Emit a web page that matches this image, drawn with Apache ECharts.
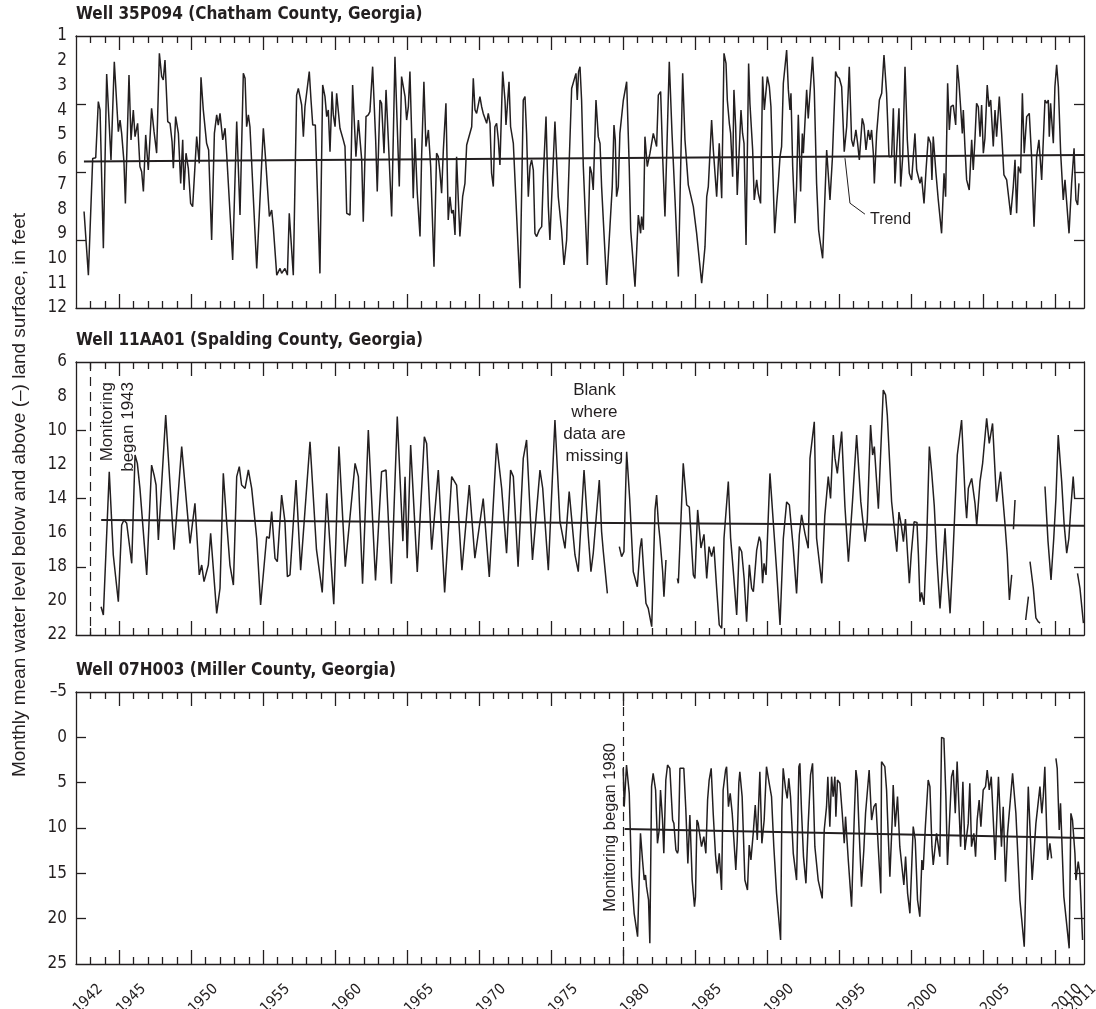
<!DOCTYPE html>
<html>
<head>
<meta charset="utf-8">
<script src="https://cdn.jsdelivr.net/npm/echarts@6/dist/echarts.min.js"></script>
<style>
  html, body { margin: 0; padding: 0; background: #ffffff; }
  #chart { width: 1096px; height: 1009px; }
</style>
</head>
<body>
<div id="chart"></div>
<script>
// ---- Data: monthly mean water level, feet below (+) / above (–) land surface ----
const xLabelYears = [1942, 1945, 1950, 1955, 1960, 1965, 1970, 1975, 1980, 1985, 1990, 1995, 2000, 2005, 2010];
const xLabelEnd = [2011];
const majorTickYears = [1945, 1950, 1955, 1960, 1965, 1970, 1975, 1980, 1985, 1990, 1995, 2000, 2005, 2010];

const titles = [
  'Well 35P094 (Chatham County, Georgia)',
  'Well 11AA01 (Spalding County, Georgia)',
  'Well 07H003 (Miller County, Georgia)'
];

// Well 35P094 [decimal year, feet]
const level35P094 = [
  [1942.56, 8.10], [1942.86, 10.67], [1943.16, 5.95], [1943.37, 5.92], [1943.55, 3.65], [1943.67, 3.99],
  [1943.90, 9.58], [1944.13, 2.54], [1944.25, 2.58], [1944.43, 6.01], [1944.66, 2.04], [1944.94, 4.87],
  [1945.06, 4.40], [1945.17, 4.94], [1945.33, 6.08], [1945.43, 7.77], [1945.68, 2.58], [1945.82, 5.20],
  [1945.98, 3.99], [1946.10, 5.07], [1946.28, 4.53], [1946.44, 6.28], [1946.56, 6.49], [1946.68, 7.29],
  [1946.84, 5.00], [1947.02, 6.42], [1947.25, 3.92], [1947.42, 4.87], [1947.60, 5.74], [1947.79, 1.70],
  [1947.95, 2.64], [1948.06, 2.78], [1948.18, 1.97], [1948.37, 4.46], [1948.53, 4.53], [1948.67, 5.27],
  [1948.76, 6.35], [1948.92, 4.26], [1949.11, 4.94], [1949.27, 6.96], [1949.41, 5.20], [1949.50, 7.23],
  [1949.64, 5.74], [1949.80, 6.35], [1949.96, 7.77], [1950.10, 7.90], [1950.38, 5.07], [1950.56, 6.15],
  [1950.68, 2.67], [1950.84, 3.99], [1951.07, 5.34], [1951.21, 5.61], [1951.42, 9.25], [1951.61, 4.94],
  [1951.77, 4.19], [1951.88, 4.60], [1952.00, 4.13], [1952.19, 5.20], [1952.35, 4.73], [1952.46, 5.74],
  [1952.88, 10.06], [1953.16, 4.46], [1953.23, 4.53], [1953.39, 8.24], [1953.62, 2.51], [1953.74, 2.71],
  [1953.85, 4.67], [1953.97, 4.19], [1954.08, 4.67], [1954.55, 10.40], [1955.01, 4.73], [1955.17, 6.01],
  [1955.43, 8.30], [1955.59, 8.04], [1955.70, 8.71], [1955.94, 10.67], [1956.17, 10.40], [1956.28, 10.60],
  [1956.51, 10.40], [1956.68, 10.67], [1956.81, 8.17], [1956.91, 8.24], [1957.09, 10.67], [1957.32, 3.39],
  [1957.44, 3.12], [1957.67, 3.79], [1957.79, 5.07], [1957.90, 3.86], [1958.02, 3.79], [1958.20, 2.44],
  [1958.32, 3.59], [1958.44, 4.60], [1958.62, 4.60], [1958.94, 10.60], [1959.13, 2.98], [1959.29, 3.45],
  [1959.41, 4.26], [1959.52, 3.99], [1959.64, 5.68], [1959.78, 3.25], [1959.87, 4.19], [1959.99, 4.67],
  [1960.10, 3.32], [1960.22, 3.39], [1960.33, 4.73], [1960.56, 5.20], [1960.68, 5.47], [1960.80, 8.17],
  [1961.03, 8.24], [1961.21, 2.98], [1961.44, 5.88], [1961.61, 4.40], [1961.72, 4.33], [1961.84, 6.01],
  [1961.95, 8.51], [1962.14, 4.26], [1962.30, 4.19], [1962.41, 4.06], [1962.60, 2.24], [1962.81, 5.20],
  [1962.92, 7.29], [1963.11, 3.59], [1963.22, 3.72], [1963.39, 5.74], [1963.53, 3.18], [1963.69, 5.20],
  [1963.92, 8.30], [1964.15, 1.84], [1964.31, 4.67], [1964.45, 7.09], [1964.61, 2.64], [1964.73, 2.71],
  [1964.85, 3.45], [1964.96, 4.40], [1965.08, 3.86], [1965.19, 2.44], [1965.31, 4.94], [1965.42, 7.56],
  [1965.54, 5.14], [1965.70, 7.36], [1965.89, 9.11], [1966.00, 5.88], [1966.16, 2.85], [1966.30, 5.47],
  [1966.47, 4.80], [1966.63, 6.28], [1966.86, 10.33], [1967.04, 5.74], [1967.16, 5.88], [1967.28, 6.55],
  [1967.39, 7.36], [1967.51, 5.61], [1967.69, 3.72], [1967.85, 8.44], [1967.97, 7.50], [1968.09, 8.17],
  [1968.20, 8.04], [1968.32, 9.05], [1968.43, 5.88], [1968.55, 7.63], [1968.66, 9.11], [1968.85, 7.50],
  [1969.01, 6.96], [1969.13, 5.41], [1969.24, 5.47], [1969.48, 4.67], [1969.59, 2.71], [1969.71, 3.99],
  [1969.82, 4.13], [1970.05, 3.45], [1970.17, 3.86], [1970.28, 4.13], [1970.40, 4.19], [1970.52, 4.53],
  [1970.63, 4.13], [1970.75, 4.53], [1970.86, 6.55], [1970.98, 7.09], [1971.09, 4.67], [1971.21, 4.53],
  [1971.33, 5.20], [1971.44, 6.22], [1971.63, 2.44], [1971.79, 3.59], [1971.86, 4.60], [1971.95, 3.86],
  [1972.07, 2.85], [1972.18, 4.67], [1972.37, 5.34], [1972.83, 11.20], [1973.06, 3.59], [1973.18, 3.45],
  [1973.29, 4.94], [1973.41, 7.50], [1973.53, 6.28], [1973.64, 6.01], [1973.76, 6.42], [1973.87, 8.98],
  [1973.99, 9.11], [1974.17, 8.84], [1974.34, 8.71], [1974.45, 6.69], [1974.64, 4.26], [1974.80, 7.90],
  [1974.91, 9.25], [1975.26, 4.46], [1975.49, 7.50], [1975.61, 7.50], [1975.72, 8.84], [1975.89, 10.26],
  [1976.07, 9.25], [1976.19, 9.18], [1976.42, 3.12], [1976.53, 3.18], [1976.72, 2.51], [1976.81, 3.59],
  [1976.90, 2.44], [1977.00, 2.24], [1977.11, 3.59], [1977.23, 6.28], [1977.51, 10.26], [1977.69, 6.28],
  [1977.81, 6.55], [1977.92, 7.23], [1978.11, 3.59], [1978.27, 5.07], [1978.39, 5.34], [1978.50, 7.09],
  [1978.85, 11.07], [1979.08, 8.71], [1979.24, 7.09], [1979.36, 4.60], [1979.45, 5.20], [1979.54, 7.50],
  [1979.66, 7.09], [1979.77, 4.94], [1980.01, 3.59], [1980.24, 2.85], [1980.42, 6.28], [1980.52, 8.84],
  [1980.82, 11.14], [1981.05, 8.24], [1981.21, 8.98], [1981.28, 8.30], [1981.40, 8.84], [1981.51, 5.07],
  [1981.67, 6.28], [1981.86, 5.74], [1982.09, 4.94], [1982.21, 4.87], [1982.32, 5.47], [1982.44, 3.39],
  [1982.60, 3.25], [1982.74, 5.88], [1982.90, 8.30], [1983.20, 2.04], [1983.39, 4.94], [1983.60, 7.63],
  [1983.83, 10.73], [1984.13, 2.51], [1984.29, 5.20], [1984.52, 7.02], [1984.64, 7.09], [1984.87, 7.90],
  [1985.10, 8.98], [1985.45, 11.00], [1985.68, 9.52], [1985.80, 7.50], [1985.91, 7.09], [1986.14, 4.40],
  [1986.26, 5.61], [1986.49, 7.50], [1986.67, 5.34], [1986.84, 7.56], [1987.00, 1.70], [1987.14, 2.11],
  [1987.23, 3.59], [1987.37, 4.53], [1987.46, 4.94], [1987.60, 6.69], [1987.69, 3.18], [1987.81, 4.67],
  [1987.92, 7.43], [1988.18, 3.99], [1988.29, 4.94], [1988.39, 5.34], [1988.53, 9.45], [1988.71, 2.11],
  [1988.80, 3.72], [1988.99, 5.61], [1989.10, 7.63], [1989.27, 6.82], [1989.38, 7.36], [1989.54, 7.77],
  [1989.68, 2.64], [1989.80, 3.99], [1990.01, 2.64], [1990.15, 3.05], [1990.26, 3.86], [1990.38, 6.28],
  [1990.52, 8.98], [1990.66, 7.77], [1990.77, 6.96], [1990.89, 5.88], [1991.00, 5.47], [1991.12, 2.91],
  [1991.23, 2.98], [1991.35, 1.57], [1991.47, 3.18], [1991.58, 3.99], [1991.65, 3.32], [1991.77, 6.28],
  [1991.93, 8.57], [1992.04, 7.09], [1992.16, 4.19], [1992.32, 7.29], [1992.44, 4.94], [1992.51, 5.74],
  [1992.74, 3.18], [1992.85, 4.33], [1992.97, 3.32], [1993.15, 1.84], [1993.27, 3.18], [1993.43, 6.96],
  [1993.57, 8.84], [1993.66, 9.25], [1993.85, 9.99], [1993.94, 9.92], [1994.13, 5.61], [1994.36, 7.63],
  [1994.52, 6.01], [1994.64, 5.95], [1994.75, 2.44], [1994.87, 2.64], [1995.01, 2.71], [1995.17, 3.05],
  [1995.35, 5.68], [1995.52, 4.67], [1995.70, 2.24], [1995.86, 5.20], [1995.98, 5.47], [1996.16, 4.80],
  [1996.28, 5.34], [1996.40, 6.01], [1996.60, 4.33], [1996.72, 4.60], [1996.86, 5.61], [1997.02, 4.80],
  [1997.14, 5.20], [1997.25, 4.80], [1997.37, 5.74], [1997.44, 6.96], [1997.60, 4.94], [1997.79, 3.59],
  [1997.95, 3.32], [1998.11, 1.77], [1998.29, 3.32], [1998.46, 5.88], [1998.64, 5.88], [1998.76, 3.92],
  [1998.87, 6.96], [1999.15, 3.92], [1999.27, 7.09], [1999.41, 5.88], [1999.57, 2.24], [1999.73, 5.20],
  [1999.87, 6.55], [2000.03, 6.82], [2000.26, 4.94], [2000.38, 6.42], [2000.61, 6.96], [2000.72, 6.69],
  [2000.89, 7.77], [2001.03, 6.42], [2001.19, 5.07], [2001.35, 5.34], [2001.44, 6.82], [2001.53, 5.07],
  [2001.72, 6.55], [2001.88, 7.63], [2002.11, 8.98], [2002.28, 6.55], [2002.39, 7.50], [2002.53, 2.91],
  [2002.65, 4.80], [2002.76, 3.86], [2002.92, 3.79], [2003.09, 4.60], [2003.20, 2.17], [2003.32, 2.91],
  [2003.43, 3.86], [2003.55, 4.94], [2003.62, 3.99], [2003.73, 5.47], [2003.85, 6.82], [2004.03, 7.23],
  [2004.20, 5.20], [2004.31, 6.42], [2004.43, 5.14], [2004.54, 3.72], [2004.66, 3.86], [2004.78, 5.07],
  [2004.89, 3.79], [2005.01, 5.74], [2005.12, 5.14], [2005.28, 2.98], [2005.40, 3.86], [2005.52, 3.59],
  [2005.70, 5.47], [2005.82, 3.99], [2005.93, 5.07], [2006.12, 3.45], [2006.28, 4.94], [2006.44, 6.62],
  [2006.63, 6.82], [2006.79, 7.63], [2006.91, 8.24], [2007.09, 7.09], [2007.21, 6.01], [2007.32, 8.17],
  [2007.44, 6.28], [2007.60, 6.55], [2007.72, 3.32], [2007.85, 5.74], [2008.02, 4.26], [2008.20, 4.13],
  [2008.36, 5.88], [2008.53, 8.71], [2008.71, 5.88], [2008.87, 5.20], [2009.06, 6.82], [2009.29, 3.59],
  [2009.41, 3.72], [2009.52, 3.59], [2009.59, 5.07], [2009.68, 3.72], [2009.87, 5.34], [2009.98, 3.05],
  [2010.10, 2.17], [2010.22, 3.05], [2010.38, 5.74], [2010.56, 7.63], [2010.68, 6.82], [2010.79, 6.75],
  [2010.96, 8.98], [2011.14, 6.96], [2011.31, 5.54], [2011.44, 7.63], [2011.56, 7.83], [2011.65, 6.96]
];
const trend35P094 = [[1942.55, 6.08], [2012.0, 5.81]];

// Well 11AA01 [decimal year, feet]; null marks missing records
const level11AA01 = [
  [1943.74, 20.34], [1943.90, 20.83], [1944.31, 12.43], [1944.59, 17.31], [1944.94, 20.05], [1945.17, 15.55],
  [1945.33, 15.26], [1945.52, 15.45], [1945.87, 17.80], [1946.10, 11.45], [1946.26, 11.94], [1946.44, 13.41],
  [1946.91, 18.48], [1947.25, 12.04], [1947.42, 12.62], [1947.56, 13.21], [1947.72, 16.43], [1948.23, 9.11],
  [1948.81, 17.00], [1949.34, 10.96], [1949.92, 16.63], [1950.26, 14.28], [1950.56, 18.48], [1950.73, 17.90],
  [1950.89, 18.87], [1951.19, 17.90], [1951.35, 16.04], [1951.77, 20.73], [1952.00, 19.26], [1952.23, 12.52],
  [1952.46, 15.36], [1952.69, 17.90], [1952.93, 19.07], [1953.16, 12.72], [1953.34, 12.13], [1953.50, 13.21],
  [1953.74, 13.41], [1953.97, 12.33], [1954.20, 13.41], [1954.55, 16.33], [1954.82, 20.24], [1955.24, 16.24],
  [1955.42, 16.33], [1955.59, 14.77], [1955.82, 17.51], [1955.98, 17.70], [1956.28, 13.80], [1956.51, 15.36],
  [1956.68, 18.58], [1956.86, 18.48], [1957.28, 12.92], [1957.60, 18.20], [1958.25, 10.67], [1958.70, 17.00],
  [1959.10, 19.50], [1959.41, 13.70], [1959.90, 20.20], [1960.26, 10.96], [1960.70, 18.00], [1961.38, 11.94],
  [1961.61, 12.72], [1961.90, 19.00], [1962.30, 9.99], [1962.80, 18.80], [1963.22, 12.43], [1963.53, 12.33],
  [1963.90, 19.00], [1964.31, 9.20], [1964.70, 16.50], [1964.85, 12.72], [1965.00, 17.50], [1965.24, 10.87],
  [1965.70, 18.30], [1966.19, 10.38], [1966.35, 10.77], [1966.70, 17.00], [1967.16, 12.33], [1967.60, 19.50],
  [1968.09, 12.72], [1968.43, 13.21], [1968.80, 18.20], [1969.31, 13.21], [1969.70, 17.50], [1970.28, 14.00],
  [1970.70, 18.60], [1971.21, 10.77], [1971.56, 13.40], [1971.90, 17.20], [1972.18, 12.33], [1972.37, 12.72],
  [1972.70, 18.00], [1973.06, 11.65], [1973.29, 10.57], [1973.70, 17.60], [1974.22, 12.33], [1974.41, 13.40],
  [1974.80, 18.20], [1975.26, 9.40], [1975.61, 15.36], [1975.96, 16.92], [1976.25, 13.60], [1976.65, 17.31],
  [1976.88, 18.29], [1977.28, 12.33], [1977.58, 16.24], [1977.76, 18.29], [1977.92, 17.21], [1978.34, 12.92],
  [1978.50, 15.94], [1978.62, 17.12], [1978.90, 19.56], [1979.30, null], [1979.73, 16.82], [1979.89, 17.41],
  [1980.05, 17.12], [1980.24, 11.26], [1980.45, 14.00], [1980.70, 18.29], [1980.98, 19.17], [1981.17, 16.92],
  [1981.28, 16.33], [1981.44, 18.48], [1981.58, 20.14], [1981.74, 20.44], [1981.98, 21.51], [1982.21, 14.67],
  [1982.32, 13.80], [1982.45, 15.50], [1982.55, 16.33], [1982.74, 18.29], [1982.83, 19.75], [1982.97, 17.60],
  [1983.35, null], [1983.76, 18.68], [1983.83, 18.97], [1984.17, 11.94], [1984.41, 14.38], [1984.59, 14.50],
  [1984.87, 18.48], [1984.98, 18.68], [1985.17, 14.67], [1985.40, 16.90], [1985.61, 16.10], [1985.80, 18.68],
  [1985.96, 16.82], [1986.14, 17.41], [1986.30, 16.82], [1986.49, 19.26], [1986.67, 21.41], [1986.84, 21.61],
  [1987.00, 16.33], [1987.30, 13.00], [1987.46, 16.33], [1987.65, 18.29], [1987.88, 20.83], [1988.06, 16.82],
  [1988.23, 17.12], [1988.40, 18.70], [1988.57, 21.22], [1988.76, 17.89], [1988.92, 19.26], [1989.04, 19.46],
  [1989.27, 17.02], [1989.45, 16.24], [1989.55, 16.53], [1989.68, 18.97], [1989.78, 17.80], [1989.92, 18.48],
  [1990.19, 12.53], [1990.42, 15.36], [1990.66, 18.29], [1990.89, 21.41], [1991.12, 16.33], [1991.35, 14.20],
  [1991.54, 14.38], [1991.81, 16.92], [1992.04, 19.56], [1992.23, 16.14], [1992.39, 14.96], [1992.62, 16.04],
  [1992.85, 16.92], [1992.97, 11.65], [1993.27, 9.50], [1993.43, 16.33], [1993.79, 18.97], [1994.00, 15.00],
  [1994.24, 12.72], [1994.40, 14.00], [1994.59, 10.28], [1994.71, 11.65], [1994.87, 12.53], [1995.17, 10.08],
  [1995.40, 14.50], [1995.64, 17.70], [1995.93, 14.09], [1996.21, 10.28], [1996.50, 14.20], [1996.80, 16.53],
  [1996.95, 15.30], [1997.18, 9.69], [1997.32, 11.45], [1997.44, 10.96], [1997.72, 14.60], [1998.06, 7.64],
  [1998.22, 7.93], [1998.34, 9.11], [1998.64, 14.19], [1998.80, 15.50], [1999.00, 17.12], [1999.15, 14.80],
  [1999.30, 15.50], [1999.46, 16.53], [1999.60, 15.20], [1999.87, 18.97], [2000.00, 17.30], [2000.20, 15.36],
  [2000.40, 15.40], [2000.50, 17.30], [2000.61, 20.05], [2000.72, 19.50], [2000.89, 20.24], [2001.08, 16.33],
  [2001.26, 10.96], [2001.42, 12.43], [2001.60, 14.40], [2001.77, 17.31], [2002.00, 20.44], [2002.17, 18.29],
  [2002.35, 15.75], [2002.50, 18.29], [2002.70, 20.73], [2002.90, 17.30], [2003.20, 11.45], [2003.50, 9.40],
  [2003.75, 14.00], [2003.85, 15.16], [2003.97, 13.40], [2004.20, 12.82], [2004.43, 14.28], [2004.55, 15.55],
  [2004.78, 13.00], [2004.96, 11.94], [2005.24, 9.30], [2005.42, 10.77], [2005.65, 9.60], [2005.93, 14.19],
  [2006.21, 12.43], [2006.50, 15.36], [2006.67, 17.30], [2006.82, 19.95], [2006.98, 18.48], [2007.05, null],
  [2007.10, 15.80], [2007.21, 14.09], [2007.50, null], [2007.95, 21.12], [2008.14, 19.75], [2008.20, null],
  [2008.25, 17.70], [2008.48, 19.26], [2008.66, 21.00], [2008.82, 21.22], [2008.95, 21.30], [2009.10, null],
  [2009.29, 13.30], [2009.50, 16.50], [2009.71, 18.78], [2009.90, 16.33], [2010.05, 14.00], [2010.21, 10.28],
  [2010.45, 13.00], [2010.62, 15.50], [2010.80, 17.20], [2010.95, 16.33], [2011.10, 14.40], [2011.25, 12.72],
  [2011.35, 14.00], [2011.45, null], [2011.55, 18.39], [2011.72, 19.26], [2011.96, 21.30]
];
const trend11AA01 = [[1943.75, 15.26], [2012.0, 15.6]];

// Well 07H003 [decimal year, feet]; null marks missing records
const level07H003 = [
  [1980.00, 3.42], [1980.07, 7.65], [1980.23, 3.05], [1980.42, 6.18], [1980.58, 15.37], [1980.76, 19.41],
  [1980.88, 19.6], [1981.00, 21.99], [1981.20, 10.59], [1981.34, 13.53], [1981.46, 15.74], [1981.55, 15.18],
  [1981.62, 16.47], [1981.76, 17.94], [1981.85, 22.72], [1981.97, 5.44], [1982.08, 3.97], [1982.25, 5.81],
  [1982.38, 11.69], [1982.50, 10.22], [1982.59, 5.81], [1982.73, 9.12], [1982.82, 12.79], [1982.96, 4.71],
  [1983.08, 3.05], [1983.24, 3.42], [1983.43, 9.12], [1983.52, 9.49], [1983.66, 12.43], [1983.77, 12.79],
  [1983.82, 12.43], [1983.94, 3.42], [1984.07, 3.24], [1984.21, 3.42], [1984.35, 8.01], [1984.49, 13.9],
  [1984.63, 8.57], [1984.79, 15.74], [1984.95, 18.68], [1985.02, 17.57], [1985.12, 9.12], [1985.21, 9.49],
  [1985.32, 10.77], [1985.44, 12.06], [1985.60, 10.96], [1985.74, 12.79], [1985.86, 6.91], [1985.97, 4.71],
  [1986.11, 3.42], [1986.25, 8.38], [1986.41, 12.98], [1986.53, 15.0], [1986.67, 12.79], [1986.83, 16.84],
  [1986.94, 5.81], [1987.11, 3.6], [1987.18, 3.24], [1987.31, 7.65], [1987.43, 6.18], [1987.57, 8.38],
  [1987.82, 14.63], [1987.92, 11.32], [1988.03, 5.07], [1988.10, 3.79], [1988.26, 6.54], [1988.45, 15.74],
  [1988.63, 16.84], [1988.75, 11.88], [1988.87, 13.53], [1989.03, 10.59], [1989.17, 7.46], [1989.31, 11.32],
  [1989.49, 3.79], [1989.63, 11.69], [1989.79, 9.12], [1989.95, 3.24], [1990.14, 5.07], [1990.30, 6.54],
  [1990.46, 12.06], [1990.65, 17.21], [1990.93, 22.35], [1991.02, 8.01], [1991.11, 3.42], [1991.27, 5.63],
  [1991.39, 6.73], [1991.50, 4.52], [1991.62, 6.54], [1991.81, 12.79], [1992.04, 15.74], [1992.20, 3.24],
  [1992.27, 2.87], [1992.38, 8.01], [1992.52, 13.16], [1992.69, 16.1], [1992.85, 9.49], [1993.01, 4.15],
  [1993.15, 2.87], [1993.31, 12.06], [1993.54, 15.74], [1993.82, 17.76], [1993.96, 10.22], [1994.12, 7.65],
  [1994.21, 4.34], [1994.35, 9.85], [1994.47, 4.34], [1994.58, 6.54], [1994.70, 4.34], [1994.77, 8.75],
  [1994.88, 4.71], [1995.05, 5.07], [1995.21, 8.38], [1995.35, 11.69], [1995.44, 8.75], [1995.63, 13.53],
  [1995.86, 18.68], [1996.04, 9.12], [1996.16, 3.6], [1996.25, 4.71], [1996.37, 9.85], [1996.55, 16.47],
  [1996.71, 12.43], [1996.83, 8.38], [1997.08, 3.6], [1997.25, 9.12], [1997.41, 7.65], [1997.55, 7.28],
  [1997.71, 12.06], [1997.89, 17.21], [1997.94, 2.68], [1998.17, 3.24], [1998.29, 5.81], [1998.40, 10.59],
  [1998.52, 15.37], [1998.68, 9.12], [1998.75, 5.26], [1998.89, 9.85], [1999.05, 6.54], [1999.21, 12.06],
  [1999.49, 16.29], [1999.61, 13.16], [1999.75, 17.21], [1999.91, 19.41], [2000.14, 9.85], [2000.28, 11.32],
  [2000.44, 17.94], [2000.60, 19.78], [2000.74, 13.53], [2000.83, 14.63], [2000.99, 9.67], [2001.18, 4.71],
  [2001.30, 5.44], [2001.44, 12.06], [2001.53, 14.08], [2001.76, 10.59], [2001.99, 13.16], [2002.11, 0.0],
  [2002.27, 0.11], [2002.41, 6.54], [2002.52, 14.08], [2002.80, 4.34], [2002.92, 3.6], [2003.06, 8.38],
  [2003.19, 2.68], [2003.43, 12.06], [2003.59, 4.89], [2003.73, 12.43], [2003.96, 9.49], [2004.07, 5.07],
  [2004.19, 12.06], [2004.35, 10.59], [2004.47, 13.16], [2004.58, 9.12], [2004.72, 6.91], [2004.84, 9.85],
  [2005.00, 5.81], [2005.16, 5.44], [2005.28, 3.6], [2005.42, 5.81], [2005.56, 4.34], [2005.83, 13.53],
  [2006.06, 4.34], [2006.27, 12.06], [2006.39, 7.65], [2006.55, 15.92], [2006.69, 10.59], [2007.04, 3.97],
  [2007.27, 8.38], [2007.55, 17.94], [2007.85, 23.09], [2008.13, 5.44], [2008.40, 15.74], [2008.66, 9.49],
  [2008.94, 5.44], [2009.07, 8.38], [2009.17, 6.54], [2009.28, 3.24], [2009.47, 13.53], [2009.63, 11.69],
  [2009.75, 13.35], [2009.90, null], [2010.05, 2.32], [2010.14, 3.42], [2010.28, 10.22], [2010.37, 7.28],
  [2010.60, 17.57], [2010.97, 23.27], [2011.09, 8.38], [2011.20, 9.12], [2011.37, 12.79], [2011.44, 15.74],
  [2011.60, 13.71], [2011.71, 15.0], [2011.90, 22.35]
];
const trend07H003 = [[1980.1, 10.1], [2012.0, 11.1]];

// Start of record for the two shorter wells
const monitoringStart = [null, 1943.0, 1980.0];

// ---- Layout ----
const INK = '#231f20';
const NARROW = "'DejaVu Sans Condensed', 'Liberation Sans Narrow', 'Arial Narrow', sans-serif";
const REGULAR = "'Liberation Sans', Arial, sans-serif";
const X_MIN = 1942, X_MAX = 2012;

const panels = [
  { top: 36,  height: 272, min: 1,  max: 12, interval: 1, ticks: [3.75, 6.5, 9.25], level: level35P094, trend: trend35P094 },
  { top: 362, height: 273, min: 6,  max: 22, interval: 2, ticks: [10, 14, 18],      level: level11AA01, trend: trend11AA01 },
  { top: 692, height: 272, min: -5, max: 25, interval: 5, ticks: [0, 5, 10, 15, 20], level: level07H003, trend: trend07H003 }
];

const minorTickYears = [];
for (let y = X_MIN + 1; y < X_MAX; y++) if (majorTickYears.indexOf(y) < 0) minorTickYears.push(y);

const grid = [], xAxis = [], yAxis = [], series = [];

const yearLabel = (values) => ({
  show: true, customValues: values, rotate: 45, align: 'left', verticalAlign: 'middle',
  margin: 47, color: INK, fontFamily: NARROW, fontSize: 15, hideOverlap: false,
  formatter: v => String(v)
});

panels.forEach((p, i) => {
  grid.push({ left: 76, right: 12, top: p.top, height: p.height, containLabel: false, outerBoundsMode: 'none' });
  const isLast = i === panels.length - 1;
  const lineStyle = { color: INK, width: 1.3 };
  const baseX = { type: 'value', gridIndex: i, min: X_MIN, max: X_MAX, splitLine: { show: false } };

  // bottom: minor ticks (+ year labels on the last panel)
  xAxis.push(Object.assign({}, baseX, {
    position: 'bottom',
    axisLine: { show: true, onZero: false, lineStyle },
    axisTick: { show: true, inside: true, length: 7, customValues: minorTickYears, lineStyle },
    axisLabel: isLast ? yearLabel(xLabelYears) : { show: false }
  }));
  // bottom: major ticks (+ closing year label on the last panel)
  xAxis.push(Object.assign({}, baseX, {
    position: 'bottom',
    axisLine: { show: false, onZero: false },
    axisTick: { show: true, inside: true, length: 14, customValues: majorTickYears, lineStyle },
    axisLabel: isLast ? yearLabel(xLabelEnd) : { show: false }
  }));
  // top: minor ticks
  xAxis.push(Object.assign({}, baseX, {
    position: 'top',
    axisLine: { show: true, onZero: false, lineStyle },
    axisTick: { show: true, inside: true, length: 7, customValues: minorTickYears, lineStyle },
    axisLabel: { show: false }
  }));
  // top: major ticks
  xAxis.push(Object.assign({}, baseX, {
    position: 'top',
    axisLine: { show: false, onZero: false },
    axisTick: { show: true, inside: true, length: 14, customValues: majorTickYears, lineStyle },
    axisLabel: { show: false }
  }));

  const baseY = { type: 'value', gridIndex: i, min: p.min, max: p.max, interval: p.interval, inverse: true, splitLine: { show: false } };
  yAxis.push(Object.assign({}, baseY, {
    position: 'left',
    axisLine: { show: true, onZero: false, lineStyle },
    axisTick: { show: true, inside: true, length: 10, customValues: p.ticks, lineStyle },
    axisLabel: {
      show: true, margin: 9, color: INK, fontFamily: NARROW, fontSize: 17,
      formatter: v => (v < 0 ? '\u2013' + Math.abs(v) : String(v))
    }
  }));
  yAxis.push(Object.assign({}, baseY, {
    position: 'right',
    axisLine: { show: true, onZero: false, lineStyle },
    axisTick: { show: true, inside: true, length: 10, customValues: p.ticks, lineStyle },
    axisLabel: { show: false }
  }));

  const levelSeries = {
    type: 'line', xAxisIndex: i * 4, yAxisIndex: i * 2, data: p.level,
    showSymbol: false, connectNulls: false, silent: true,
    lineStyle: { color: INK, width: 1.5 }, z: 3
  };
  if (monitoringStart[i] !== null) {
    levelSeries.markLine = {
      silent: true, symbol: 'none', label: { show: false },
      lineStyle: { color: INK, width: 1.2, type: [9, 6] },
      data: [{ xAxis: monitoringStart[i] }]
    };
  }
  series.push(levelSeries);
  series.push({
    type: 'line', xAxisIndex: i * 4, yAxisIndex: i * 2, data: p.trend,
    showSymbol: false, silent: true, lineStyle: { color: INK, width: 2 }, z: 4
  });
});

const chart = echarts.init(document.getElementById('chart'), null, { renderer: 'canvas' });
chart.setOption({
  animation: false,
  backgroundColor: '#ffffff',
  grid, xAxis, yAxis, series
});

// ---- Titles and annotations, placed from the axes' own coordinate systems ----
const px = (gi, pt) => chart.convertToPixel({ gridIndex: gi }, pt);
const graphics = [];

titles.forEach((t, i) => {
  graphics.push({
    type: 'text', x: 76, y: panels[i].top - 21,
    style: { text: t, fill: INK, font: 'bold 17px ' + NARROW, textAlign: 'left', textVerticalAlign: 'middle' }
  });
});

graphics.push({
  type: 'text', x: 20, y: 495, rotation: Math.PI / 2,
  style: {
    text: 'Monthly mean water level below and above (\u2013) land surface, in feet',
    fill: INK, font: '19px ' + REGULAR, textAlign: 'center', textVerticalAlign: 'middle'
  }
});

// Trend callout on the Chatham County well
const trendAt = px(0, [1995.4, 5.86]);
graphics.push({
  type: 'polyline', silent: true,
  shape: { points: [[trendAt[0], trendAt[1] + 2], [trendAt[0] + 5, trendAt[1] + 47], [trendAt[0] + 20, trendAt[1] + 58]] },
  style: { stroke: INK, lineWidth: 1, fill: null }
});
graphics.push({
  type: 'text', x: trendAt[0] + 25, y: trendAt[1] + 63,
  style: { text: 'Trend', fill: INK, font: '16px ' + REGULAR, textAlign: 'left', textVerticalAlign: 'middle' }
});

// Start-of-record notes
const m43 = px(1, [1943.0, 6]);
graphics.push({
  type: 'text', x: m43[0] + 27, y: m43[1] + 20, rotation: Math.PI / 2,
  style: { text: 'Monitoring\nbegan 1943', fill: INK, font: '17px ' + REGULAR, lineHeight: 21, textAlign: 'right', textVerticalAlign: 'middle' }
});
const m80 = px(2, [1980.0, -5]);
graphics.push({
  type: 'text', x: m80[0] - 13, y: m80[1] + 51, rotation: Math.PI / 2,
  style: { text: 'Monitoring began 1980', fill: INK, font: '16.5px ' + REGULAR, textAlign: 'right', textVerticalAlign: 'middle' }
});

// Gap note on the Spalding County well
const gapNote = px(1, [1978.0, 9.62]);
graphics.push({
  type: 'text', x: gapNote[0], y: gapNote[1],
  style: { text: 'Blank\nwhere\ndata are\nmissing', fill: INK, font: '17px ' + REGULAR, lineHeight: 22, textAlign: 'center', textVerticalAlign: 'middle' }
});

chart.setOption({ graphic: graphics });
</script>
</body>
</html>
